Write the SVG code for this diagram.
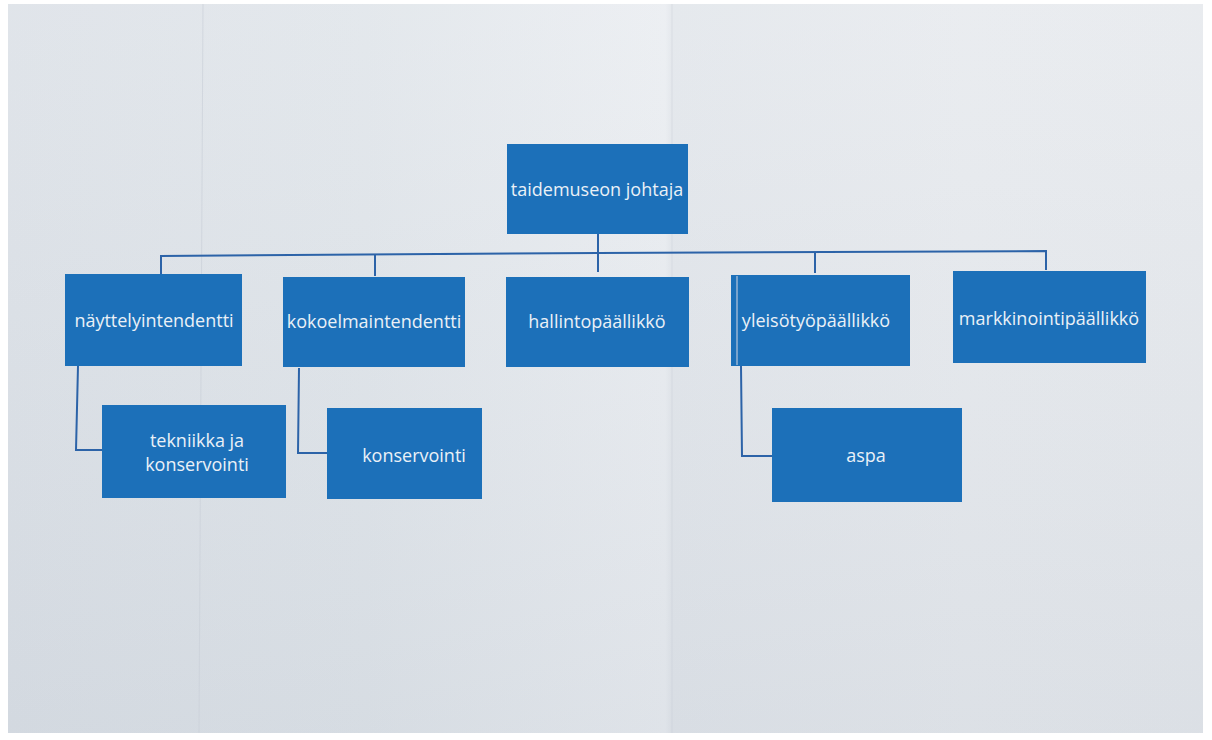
<svg xmlns="http://www.w3.org/2000/svg" width="1212" height="740" viewBox="0 0 1212 740">
  <defs>
    <linearGradient id="paper" x1="0" y1="0" x2="1" y2="0">
      <stop offset="0" stop-color="#dce1e7"/>
      <stop offset="0.3" stop-color="#e0e5ea"/>
      <stop offset="0.55" stop-color="#eaedf1"/>
      <stop offset="0.555" stop-color="#e2e6eb"/>
      <stop offset="0.8" stop-color="#e7eaee"/>
      <stop offset="1" stop-color="#e6e9ed"/>
    </linearGradient>
    <linearGradient id="shade" x1="0" y1="0" x2="0" y2="1">
      <stop offset="0" stop-color="#ffffff" stop-opacity="0.12"/>
      <stop offset="1" stop-color="#9aa6b5" stop-opacity="0.14"/>
    </linearGradient>
    <style>
      .box { fill: #1c70b9; }
      .lbl { fill: #eaf0f7; font-family: "Open Sans", "Liberation Sans", sans-serif; font-size: 18px; text-anchor: middle; }
      .con { fill: none; stroke: #2c63a8; stroke-width: 2; }
      .fold { stroke: #cad0d8; stroke-width: 1; fill: none; }
    </style>
  </defs>
  <rect width="1212" height="740" fill="#ffffff"/>
  <rect x="8" y="4" width="1195" height="729" fill="url(#paper)"/>
  <rect x="8" y="4" width="1195" height="729" fill="url(#shade)"/>
  <g id="folds">
    <path class="fold" d="M203 4 L199 733" stroke-opacity="0.7"/>
    <path class="fold" d="M672 4 L672 733" stroke-opacity="0.4"/>
  </g>

  <g id="connectors">
    <path class="con" d="M598 234 L598 272"/>
    <path class="con" d="M161 274 L161 256 L598 253 L1046 251 L1046 270"/>
    <path class="con" d="M375 255 L375 276"/>
    <path class="con" d="M815 252 L815 273"/>
    <path class="con" d="M78 366 L76 450 L102 450"/>
    <path class="con" d="M299 368 L298 453 L327 453"/>
    <path class="con" d="M741 366 L742 456 L772 456"/>
  </g>

  <g id="n-johtaja">
    <rect class="box" x="507" y="144" width="181" height="90"/>
    <text class="lbl" x="597" y="196">taidemuseon johtaja</text>
  </g>
  <g id="n-nayttely">
    <rect class="box" x="65" y="274" width="177" height="92"/>
    <text class="lbl" x="154" y="327">näyttelyintendentti</text>
  </g>
  <g id="n-kokoelma">
    <rect class="box" x="283" y="277" width="182" height="90"/>
    <text class="lbl" x="374" y="328">kokoelmaintendentti</text>
  </g>
  <g id="n-hallinto">
    <rect class="box" x="506" y="277" width="183" height="90"/>
    <text class="lbl" x="597" y="328">hallintopäällikkö</text>
  </g>
  <g id="n-yleiso">
    <rect class="box" x="731" y="275" width="179" height="91"/>
    <text class="lbl" x="816" y="327">yleisötyöpäällikkö</text>
  </g>
  <g id="n-markkinointi">
    <rect class="box" x="953" y="271" width="193" height="92"/>
    <text class="lbl" x="1049" y="325">markkinointipäällikkö</text>
  </g>
  <g id="n-tekniikka">
    <rect class="box" x="102" y="405" width="184" height="93"/>
    <text class="lbl" x="197" y="447">tekniikka ja</text>
    <text class="lbl" x="197" y="471">konservointi</text>
  </g>
  <g id="n-konservointi">
    <rect class="box" x="327" y="408" width="155" height="91"/>
    <text class="lbl" x="414" y="462">konservointi</text>
  </g>
  <g id="n-aspa">
    <rect class="box" x="772" y="408" width="190" height="94"/>
    <text class="lbl" x="866" y="462">aspa</text>
  </g>
  <path d="M737 276 L737 365" stroke="#9fb9d6" stroke-width="2" opacity="0.7"/>
</svg>
